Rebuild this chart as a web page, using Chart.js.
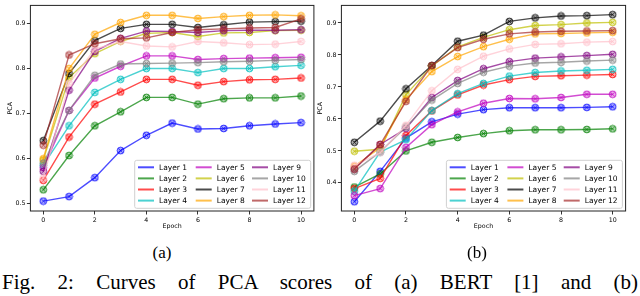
<!DOCTYPE html>
<html>
<head>
<meta charset="utf-8">
<script src="https://cdn.jsdelivr.net/npm/chart.js@4.4.1/dist/chart.umd.min.js"></script>
<style>
  html, body { margin: 0; padding: 0; background: #fff; width: 640px; height: 296px; overflow: hidden; }
  body { position: relative; }
  canvas { position: absolute; top: 0; }
  #chartA { left: 0; }
  #chartB { left: 306px; }
  .sub { position: absolute; top: 243px; font-family: "Liberation Serif", "Times New Roman", Times, serif; font-size: 17px; color: #000; transform: translateX(-50%); }
  #caption { position: absolute; left: 2px; width: 636px; top: 270px; font-family: "Liberation Serif", "Times New Roman", Times, serif; font-size: 21px; color: #000;
             text-align: justify; text-align-last: justify; }
</style>
</head>
<body>
<canvas id="chartA" width="320" height="236"></canvas>
<canvas id="chartB" width="334" height="236"></canvas>
<div class="sub" style="left:162px">(a)</div>
<div class="sub" style="left:477px">(b)</div>
<div id="caption">Fig. 2: Curves of PCA scores of (a) BERT [1] and (b)</div>
<script>
const epochs = [0, 1, 2, 3, 4, 5, 6, 7, 8, 9, 10];
const layerNames = ["Layer 1", "Layer 2", "Layer 3", "Layer 4", "Layer 5", "Layer 6",
                    "Layer 7", "Layer 8", "Layer 9", "Layer 10", "Layer 11", "Layer 12"];
const layerColors = ["#0000ff", "#008000", "#ff0000", "#00bfbf", "#bf00bf", "#bfbf00",
                     "#000000", "#ffa500", "#800080", "#808080", "#ffc0cb", "#a52a2a"];
const xTicks = [0, 2, 4, 6, 8, 10];
const yTicksA = [0.5, 0.6, 0.7, 0.8, 0.9];
const yTicksB = [0.4, 0.5, 0.6, 0.7, 0.8, 0.9];

// (a) BERT, one row per layer
const scoresA = [
  [0.506, 0.516, 0.558, 0.618, 0.652, 0.679, 0.666, 0.667, 0.673, 0.677, 0.680],
  [0.531, 0.607, 0.673, 0.704, 0.736, 0.736, 0.721, 0.733, 0.735, 0.735, 0.739],
  [0.552, 0.648, 0.721, 0.748, 0.776, 0.776, 0.763, 0.771, 0.775, 0.776, 0.779],
  [0.585, 0.673, 0.747, 0.776, 0.800, 0.800, 0.791, 0.800, 0.800, 0.804, 0.807],
  [0.580, 0.707, 0.779, 0.805, 0.828, 0.828, 0.820, 0.822, 0.823, 0.824, 0.825],
  [0.597, 0.780, 0.833, 0.860, 0.878, 0.880, 0.871, 0.879, 0.880, 0.884, 0.885],
  [0.640, 0.789, 0.862, 0.889, 0.898, 0.898, 0.891, 0.897, 0.903, 0.904, 0.905],
  [0.600, 0.800, 0.876, 0.902, 0.918, 0.918, 0.911, 0.915, 0.918, 0.919, 0.917],
  [0.572, 0.752, 0.838, 0.867, 0.883, 0.882, 0.880, 0.884, 0.885, 0.885, 0.886],
  [0.590, 0.707, 0.785, 0.810, 0.811, 0.812, 0.813, 0.815, 0.816, 0.818, 0.820],
  [0.557, 0.767, 0.843, 0.860, 0.850, 0.848, 0.860, 0.857, 0.853, 0.854, 0.860],
  [0.630, 0.830, 0.855, 0.866, 0.868, 0.880, 0.886, 0.888, 0.890, 0.891, 0.910]
];

// (b)
const scoresB = [
  [0.341, 0.436, 0.540, 0.591, 0.615, 0.629, 0.635, 0.635, 0.635, 0.636, 0.638],
  [0.387, 0.428, 0.500, 0.527, 0.542, 0.554, 0.563, 0.566, 0.566, 0.567, 0.569],
  [0.382, 0.414, 0.548, 0.625, 0.675, 0.706, 0.723, 0.733, 0.735, 0.737, 0.739],
  [0.374, 0.496, 0.535, 0.626, 0.679, 0.711, 0.734, 0.745, 0.750, 0.752, 0.755],
  [0.360, 0.382, 0.511, 0.582, 0.622, 0.649, 0.664, 0.663, 0.667, 0.677, 0.677],
  [0.499, 0.505, 0.676, 0.765, 0.825, 0.855, 0.879, 0.892, 0.895, 0.900, 0.902],
  [0.527, 0.593, 0.694, 0.767, 0.843, 0.862, 0.905, 0.916, 0.922, 0.923, 0.926],
  [0.452, 0.510, 0.660, 0.748, 0.795, 0.826, 0.849, 0.866, 0.867, 0.869, 0.871],
  [0.443, 0.520, 0.570, 0.667, 0.720, 0.757, 0.779, 0.790, 0.794, 0.798, 0.802],
  [0.436, 0.497, 0.575, 0.659, 0.711, 0.746, 0.765, 0.775, 0.777, 0.781, 0.784],
  [0.455, 0.494, 0.580, 0.688, 0.755, 0.796, 0.819, 0.833, 0.835, 0.840, 0.842],
  [0.443, 0.520, 0.655, 0.767, 0.823, 0.849, 0.866, 0.872, 0.874, 0.875, 0.876]
];

const axisFont = { family: "DejaVu Sans", size: 6.3 };
const legendFont = "7.5px 'DejaVu Sans'";

function rgba(hex, a) {
  const n = parseInt(hex.slice(1), 16);
  return `rgba(${(n >> 16) & 255},${(n >> 8) & 255},${n & 255},${a})`;
}

// circle with a cross inside, like the matplotlib markers
function makeMarker(hex) {
  const c = document.createElement("canvas");
  c.width = 9; c.height = 9;
  const g = c.getContext("2d");
  g.beginPath();
  g.arc(4.5, 4.5, 3.4, 0, Math.PI * 2);
  g.fillStyle = rgba(hex, 0.3);
  g.fill();
  g.lineWidth = 1;
  g.strokeStyle = rgba(hex, 0.8);
  g.stroke();
  g.beginPath();
  g.moveTo(2.3, 2.3); g.lineTo(6.7, 6.7);
  g.moveTo(6.7, 2.3); g.lineTo(2.3, 6.7);
  g.stroke();
  return c;
}

const frameLegend = {
  id: "frameLegend",
  afterDraw(chart) {
    const ctx = chart.ctx;
    const ca = chart.chartArea;
    ctx.save();
    ctx.strokeStyle = "#222";
    ctx.lineWidth = 1;
    ctx.strokeRect(ca.left, ca.top, ca.right - ca.left, ca.bottom - ca.top);

    // legend box, lower right, 3 columns filled top to bottom
    const w = 176, h = 48;
    const bx = ca.right - 3.2 - w, by = ca.bottom - 2.7 - h;
    ctx.beginPath();
    ctx.roundRect(bx, by, w, h, 2);
    ctx.fillStyle = "rgba(255,255,255,0.85)";
    ctx.fill();
    ctx.strokeStyle = "#d0d0d0";
    ctx.lineWidth = 1;
    ctx.stroke();

    const colX = [3.3, 61, 117.3];
    ctx.font = legendFont;
    ctx.textBaseline = "middle";
    chart.data.datasets.forEach((ds, i) => {
      const col = Math.floor(i / 4), row = i % 4;
      const x = bx + colX[col];
      const y = by + 7 + row * 11.1;
      ctx.beginPath();
      ctx.moveTo(x, y); ctx.lineTo(x + 16, y);
      ctx.strokeStyle = ds.borderColor;
      ctx.lineWidth = 2;
      ctx.stroke();
      ctx.fillStyle = "#000";
      ctx.fillText(ds.label, x + 21, y + 0.5);
    });
    ctx.restore();
  }
};

function buildChart(id, scores, yTicks, yMin, yMax, axisW, padRight, titlePad) {
  const datasets = layerNames.map((name, i) => ({
    label: name,
    data: epochs.map((e, j) => ({ x: e, y: scores[i][j] })),
    borderColor: rgba(layerColors[i], 0.7),
    borderWidth: 1.4,
    pointStyle: makeMarker(layerColors[i]),
    pointRadius: 4,
    tension: 0,
    order: layerNames.length - i
  }));

  const tickGrid = { drawOnChartArea: false, drawTicks: true, tickLength: 3.5, color: "#000", lineWidth: 0.8 };

  return new Chart(document.getElementById(id), {
    type: "line",
    data: { datasets },
    options: {
      responsive: false,
      animation: false,
      layout: { padding: { left: 0, top: 0.5, right: padRight, bottom: 0 } },
      plugins: { legend: { display: false }, tooltip: { enabled: false } },
      scales: {
        x: {
          type: "linear",
          min: -0.5,
          max: 10.5,
          afterBuildTicks: s => { s.ticks = xTicks.map(v => ({ value: v })); },
          ticks: { font: axisFont, color: "#000", padding: 2, maxRotation: 0, autoSkip: false, callback: v => String(v) },
          grid: tickGrid,
          border: { display: false },
          title: { display: true, text: "Epoch", font: axisFont, color: "#000", padding: { top: 0, bottom: 5.5 } },
          afterFit: s => { s.height = 25; s.paddingLeft = 0; s.paddingRight = 0; }
        },
        y: {
          type: "linear",
          min: yMin,
          max: yMax,
          afterBuildTicks: s => { s.ticks = yTicks.map(v => ({ value: v })); },
          ticks: { font: axisFont, color: "#000", padding: 1.5, autoSkip: false, callback: v => v.toFixed(1) },
          grid: tickGrid,
          border: { display: false },
          title: { display: true, text: "PCA", font: axisFont, color: "#000", padding: { top: titlePad, bottom: 0 } },
          afterFit: s => { s.width = axisW; s.paddingTop = 0; s.paddingBottom = 0; }
        }
      }
    },
    plugins: [frameLegend]
  });
}

buildChart("chartA", scoresA, yTicksA, 0.484, 0.940, 30.4, 6.1, 7);
buildChart("chartB", scoresB, yTicksB, 0.312, 0.955, 35.4, 14.4, 10.9);
</script>
</body>
</html>
